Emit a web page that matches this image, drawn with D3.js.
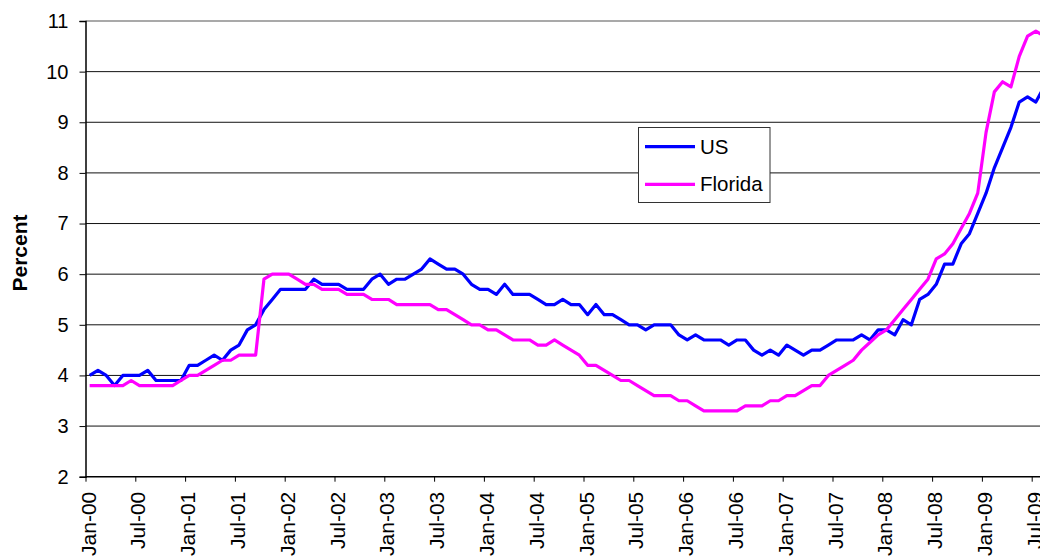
<!DOCTYPE html>
<html>
<head>
<meta charset="utf-8">
<script src="https://cdn.jsdelivr.net/npm/d3@7"></script>
<style>
  body { margin: 0; background: #fff; }
  svg { display: block; font-family: "Liberation Sans", Arial, sans-serif; }
</style>
</head>
<body>
<div id="chart"></div>
<script>
// monthly unemployment rate, Jan-00 .. Aug-09
var usRate = [
  4.0, 4.1, 4.0, 3.8, 4.0, 4.0, 4.0, 4.1, 3.9, 3.9, 3.9, 3.9,
  4.2, 4.2, 4.3, 4.4, 4.3, 4.5, 4.6, 4.9, 5.0, 5.3, 5.5, 5.7,
  5.7, 5.7, 5.7, 5.9, 5.8, 5.8, 5.8, 5.7, 5.7, 5.7, 5.9, 6.0,
  5.8, 5.9, 5.9, 6.0, 6.1, 6.3, 6.2, 6.1, 6.1, 6.0, 5.8, 5.7,
  5.7, 5.6, 5.8, 5.6, 5.6, 5.6, 5.5, 5.4, 5.4, 5.5, 5.4, 5.4,
  5.2, 5.4, 5.2, 5.2, 5.1, 5.0, 5.0, 4.9, 5.0, 5.0, 5.0, 4.8,
  4.7, 4.8, 4.7, 4.7, 4.7, 4.6, 4.7, 4.7, 4.5, 4.4, 4.5, 4.4,
  4.6, 4.5, 4.4, 4.5, 4.5, 4.6, 4.7, 4.7, 4.7, 4.8, 4.7, 4.9,
  4.9, 4.8, 5.1, 5.0, 5.5, 5.6, 5.8, 6.2, 6.2, 6.6, 6.8, 7.2,
  7.6, 8.1, 8.5, 8.9, 9.4, 9.5, 9.4, 9.7
];
var floridaRate = [
  3.8, 3.8, 3.8, 3.8, 3.8, 3.9, 3.8, 3.8, 3.8, 3.8, 3.8, 3.9,
  4.0, 4.0, 4.1, 4.2, 4.3, 4.3, 4.4, 4.4, 4.4, 5.9, 6.0, 6.0,
  6.0, 5.9, 5.8, 5.8, 5.7, 5.7, 5.7, 5.6, 5.6, 5.6, 5.5, 5.5,
  5.5, 5.4, 5.4, 5.4, 5.4, 5.4, 5.3, 5.3, 5.2, 5.1, 5.0, 5.0,
  4.9, 4.9, 4.8, 4.7, 4.7, 4.7, 4.6, 4.6, 4.7, 4.6, 4.5, 4.4,
  4.2, 4.2, 4.1, 4.0, 3.9, 3.9, 3.8, 3.7, 3.6, 3.6, 3.6, 3.5,
  3.5, 3.4, 3.3, 3.3, 3.3, 3.3, 3.3, 3.4, 3.4, 3.4, 3.5, 3.5,
  3.6, 3.6, 3.7, 3.8, 3.8, 4.0, 4.1, 4.2, 4.3, 4.5, 4.65, 4.8,
  4.9, 5.1, 5.3, 5.5, 5.7, 5.9, 6.3, 6.4, 6.6, 6.9, 7.2, 7.6,
  8.8, 9.6, 9.8, 9.7, 10.3, 10.7, 10.8, 10.7
];
// one label every 6 months
var tickLabels = [
  "Jan-00", "Jul-00", "Jan-01", "Jul-01", "Jan-02", "Jul-02", "Jan-03", "Jul-03",
  "Jan-04", "Jul-04", "Jan-05", "Jul-05", "Jan-06", "Jul-06", "Jan-07", "Jul-07",
  "Jan-08", "Jul-08", "Jan-09", "Jul-09"
];
var yTicks = [2, 3, 4, 5, 6, 7, 8, 9, 10, 11];
var seriesNames = ["US", "Florida"];
var seriesColors = ["#0000ff", "#ff00ff"];

var chartW = 1040, chartH = 556;
var plotLeft = 85.5, plotTop = 21, plotBottom = 476.7, step = 8.3, nCats = 117;

var svg = d3.select("#chart").append("svg")
    .attr("width", chartW)
    .attr("height", chartH);

var x = d3.scaleLinear().domain([0, nCats]).range([plotLeft, plotLeft + nCats * step]);
var y = d3.scaleLinear().domain([2, 11]).range([plotBottom, plotTop]);

// gridlines
svg.append("g").selectAll("line")
  .data(yTicks.filter(function(d) { return d > 2; }))
  .enter().append("line")
    .attr("x1", plotLeft).attr("x2", x(nCats))
    .attr("y1", function(d) { return y(d); })
    .attr("y2", function(d) { return y(d); })
    .attr("stroke", function(d) { return d === 11 ? "#8c8c8c" : "#111"; })
    .attr("stroke-width", function(d) { return d === 11 ? 1.6 : 1; });

// y axis
var yAxis = svg.append("g")
    .attr("transform", "translate(" + plotLeft + ",0)")
    .call(d3.axisLeft(y).tickValues(yTicks).tickSize(6).tickPadding(11).tickFormat(d3.format("d")));
yAxis.select(".domain").attr("stroke", "#000").attr("stroke-width", 1.5);
yAxis.selectAll(".tick line").attr("stroke", "#000");
yAxis.selectAll("text").attr("font-size", "20px").attr("fill", "#000")
    .attr("font-family", "Liberation Sans, Arial, sans-serif");

// x axis
var tickCats = tickLabels.map(function(d, i) { return i * 6; });
var xAxis = svg.append("g")
    .attr("transform", "translate(0," + plotBottom + ")")
    .call(d3.axisBottom(x).tickValues(tickCats).tickSize(5).tickFormat(""));
xAxis.select(".domain").attr("stroke", "#000").attr("stroke-width", 1.5)
    .attr("d", "M" + plotLeft + ",0H" + x(nCats));
xAxis.selectAll(".tick line").attr("stroke", "#000");

svg.append("g").selectAll("text")
  .data(tickLabels)
  .enter().append("text")
    .attr("transform", function(d, i) {
      return "translate(" + (x(tickCats[i]) + 10) + "," + (plotBottom + 15) + ") rotate(-90)";
    })
    .attr("text-anchor", "end")
    .attr("font-size", "21px")
    .attr("fill", "#000")
    .text(function(d) { return d; });

// axis title
svg.append("text")
    .attr("transform", "translate(26.5,253) rotate(-90)")
    .attr("text-anchor", "middle")
    .attr("font-size", "21px")
    .attr("font-weight", "bold")
    .text("Percent");

// lines
var line = d3.line()
    .x(function(d, i) { return x(i + 0.5); })
    .y(function(d) { return y(d); });

[usRate, floridaRate].forEach(function(vals, k) {
  svg.append("path")
    .datum(vals)
    .attr("fill", "none")
    .attr("stroke", seriesColors[k])
    .attr("stroke-width", 3.2)
    .attr("stroke-linejoin", "round")
    .attr("d", line);
});

// legend
var legend = svg.append("g").attr("transform", "translate(638.5,127.5)");
legend.append("rect")
    .attr("width", 131.5).attr("height", 75)
    .attr("fill", "#fff").attr("stroke", "#333").attr("stroke-width", 1);
var items = legend.selectAll(".item")
  .data(seriesNames)
  .enter().append("g")
    .attr("transform", function(d, i) { return "translate(0," + (19.2 + i * 37.6) + ")"; });
items.append("line")
    .attr("x1", 6.5).attr("x2", 56.5)
    .attr("stroke", function(d, i) { return seriesColors[i]; })
    .attr("stroke-width", 3.2);
items.append("text")
    .attr("x", 61.5).attr("y", 6.8)
    .attr("font-size", "20.5px")
    .text(function(d) { return d; });
</script>
</body>
</html>
